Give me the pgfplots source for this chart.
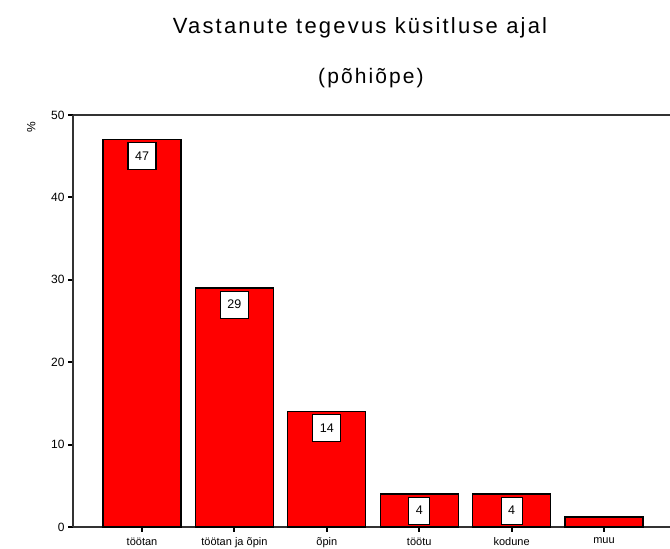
\documentclass[border=0pt]{standalone}
\usepackage{pgfplots}
\pgfplotsset{compat=1.18}
\usepackage{fontspec}
\setmainfont{Liberation Sans}
\definecolor{barred}{RGB}{255,0,0}
\begin{document}
\begin{tikzpicture}[x=1pt,y=1pt]
\begin{axis}[
  at={(73pt,22pt)}, anchor=south west,
  scale only axis, width=597pt, height=412pt,
  xmin=-0.747, xmax=5.714, ymin=0, ymax=50,
  axis x line*=bottom, axis y line*=left,
  axis line style={-, line width=1.6pt, black!80},
  xtick={0,1,2,3,4,5},
  xticklabels={töötan, töötan ja õpin, õpin, töötu, kodune, muu},
  ytick={0,10,20,30,40,50},
  tick align=outside, major tick length=5pt,
  tick style={line width=2pt, black},
  xticklabel style={font=\fontsize{11}{13}\selectfont, yshift=-2pt},
  yticklabel style={font=\fontsize{12}{14}\selectfont},
  /pgf/number format/assume math mode=true,
  ylabel={\%}, ylabel style={at={(axis description cs:-0.07,0.97)}, anchor=center, font=\fontsize{12}{14}\selectfont},
  ybar, bar width=0.844, bar shift=0pt,
  clip=false,
]
\addplot[fill=barred, draw=black, line width=1.3pt,
  nodes near coords,
  nodes near coords style={anchor=north, yshift=-2.5pt, fill=white, draw=black, line width=1.2pt,
    font=\fontsize{12.5}{14}\selectfont, inner xsep=7pt, minimum height=27pt, text=black},
] coordinates {(0,47) (1,29) (2,14) (3,4) (4,4)};
\addplot[fill=barred, draw=black, line width=1.3pt] coordinates {(5,1.2)};
\draw[line width=1.6pt, black!80] (rel axis cs:0,1) -- (rel axis cs:1,1);
\end{axis}
\node[font=\fontsize{22}{24}\selectfont\addfontfeature{LetterSpace=10}] at (360pt,521pt) {Vastanute tegevus küsitluse ajal};
\node[font=\fontsize{21}{24}\selectfont\addfontfeature{LetterSpace=10}] at (371pt,471pt) {(põhiõpe)};
\pgfresetboundingbox
\path (0,0) rectangle (670pt,549pt);
\end{tikzpicture}
\end{document}
